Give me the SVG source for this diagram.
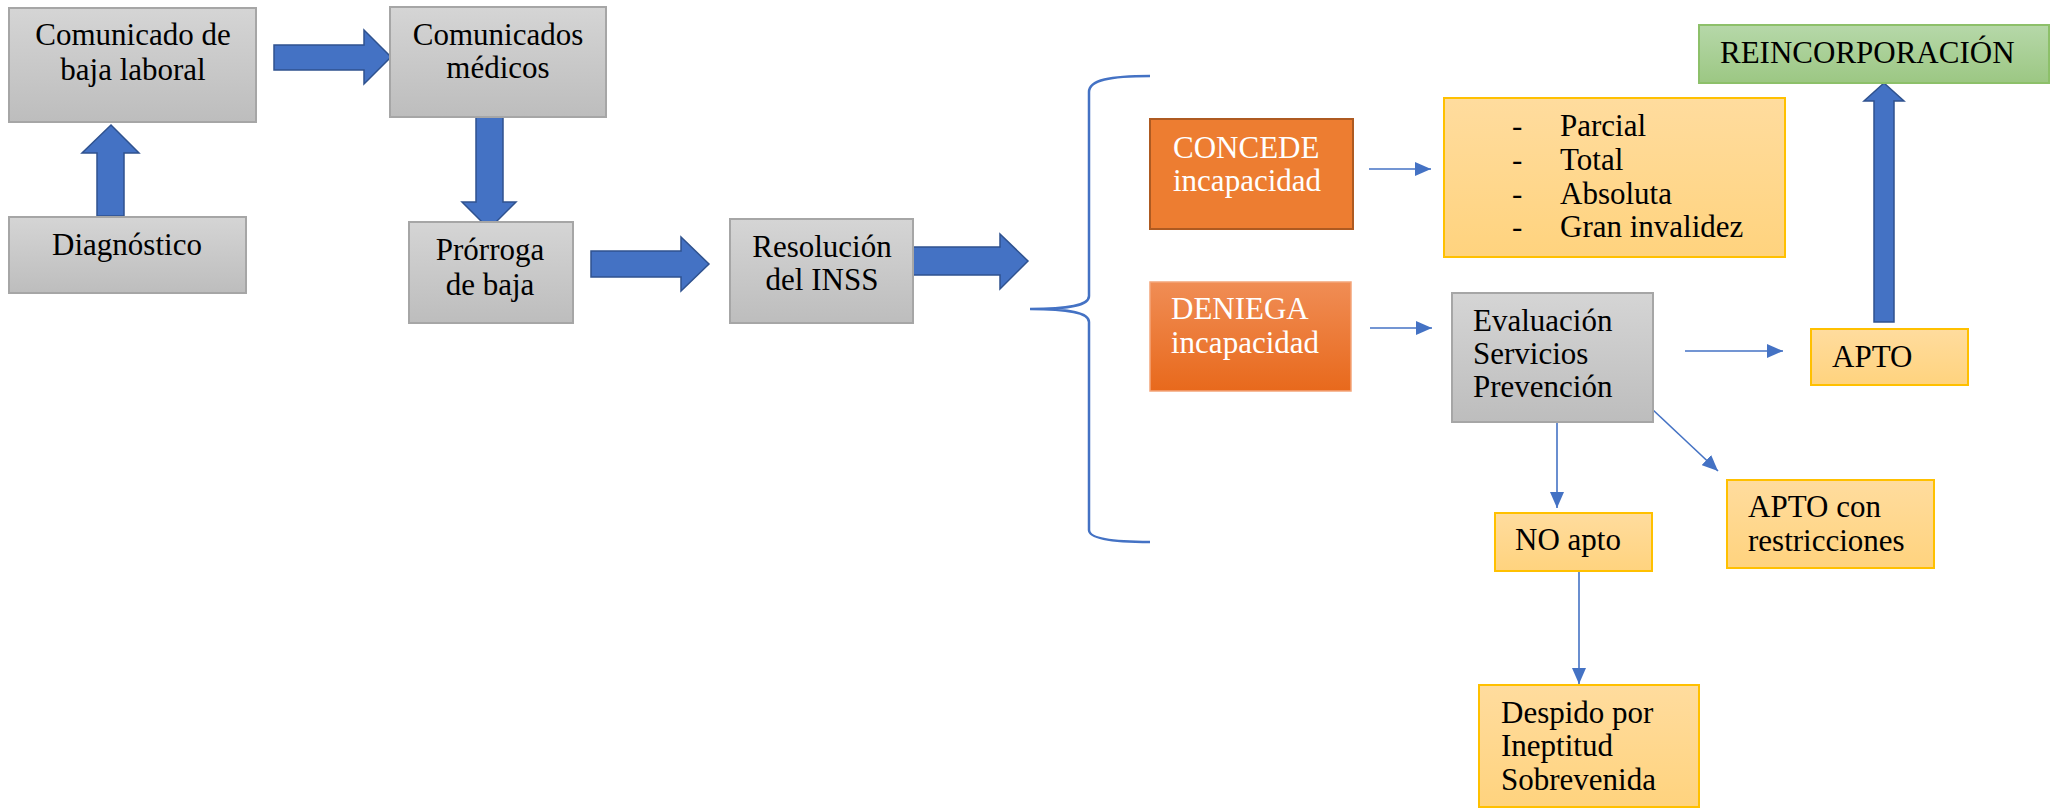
<svg xmlns="http://www.w3.org/2000/svg" width="2058" height="811" viewBox="0 0 2058 811">
<style>
text{font-family:'Liberation Serif',Tinos,'DejaVu Serif',serif;font-size:31px;fill:#000}
.w{fill:#fff}
.gray{fill:url(#gGray);stroke:#A6A6A6;stroke-width:2}
.yel{fill:url(#gYel);stroke:#FFC000;stroke-width:2}
.blk{fill:#4472C4;stroke:#2F528F;stroke-width:1.5;stroke-linejoin:miter}
.con{stroke:#4472C4;stroke-width:1.6;fill:none;marker-end:url(#ah)}
</style>
<defs>
<linearGradient id="gGray" x1="0" y1="0" x2="0" y2="1"><stop offset="0" stop-color="#D5D5D5"/><stop offset="1" stop-color="#BDBDBD"/></linearGradient>
<linearGradient id="gYel" x1="0" y1="0" x2="0" y2="1"><stop offset="0" stop-color="#FFDC9E"/><stop offset="1" stop-color="#FFD37E"/></linearGradient>
<linearGradient id="gDen" x1="0" y1="0" x2="0" y2="1"><stop offset="0" stop-color="#F08D55"/><stop offset="1" stop-color="#E8691C"/></linearGradient>
<linearGradient id="gGrn" x1="0" y1="0" x2="0" y2="1"><stop offset="0" stop-color="#B6D8A9"/><stop offset="1" stop-color="#9CC783"/></linearGradient>
<marker id="ah" markerUnits="userSpaceOnUse" markerWidth="18" markerHeight="14" refX="16" refY="7" orient="auto"><path d="M0,0 L16,7 L0,14 Z" fill="#4472C4"/></marker>
</defs>

<g id="connectors">
<polygon class="blk" points="274,45 364,45 364,30 391,57 364,84 364,70 274,70"/>
<polygon class="blk" points="97,216 97,153 82,153 111,125 139,153 124,153 124,216"/>
<polygon class="blk" points="476,111 503,111 503,202 516,202 489,229 462,202 476,202"/>
<polygon class="blk" points="591,251 681,251 681,237 709,264 681,291 681,277 591,277"/>
<polygon class="blk" points="913,247 1000,247 1000,234 1028,261 1000,289 1000,275 913,275"/>
<polygon class="blk" points="1874,322 1874,101 1864,101 1884,83 1904,101 1894,101 1894,322"/>
<path d="M1150,76 C1110,76 1089,80 1089,92 L1089,296 C1089,305 1072,309 1030,309 C1072,309 1089,313 1089,322 L1089,530 C1089,538 1110,542 1150,542" stroke="#4472C4" stroke-width="2.5" fill="none"/>
<line class="con" x1="1369" y1="169" x2="1431" y2="169"/>
<line class="con" x1="1370" y1="328" x2="1432" y2="328"/>
<line class="con" x1="1685" y1="351" x2="1783" y2="351"/>
<line class="con" x1="1557" y1="422" x2="1557" y2="508"/>
<line class="con" x1="1652" y1="409" x2="1718" y2="471"/>
<line class="con" x1="1579" y1="560" x2="1579" y2="684"/>
</g>

<g id="comunicado">
<rect class="gray" x="9" y="8" width="247" height="114"/>
<text x="133" y="45" text-anchor="middle">Comunicado de</text>
<text x="133" y="80" text-anchor="middle">baja laboral</text>
</g>
<g id="diagnostico">
<rect class="gray" x="9" y="217" width="237" height="76"/>
<text x="127" y="255" text-anchor="middle">Diagnóstico</text>
</g>
<g id="medicos">
<rect class="gray" x="390" y="7" width="216" height="110"/>
<text x="498" y="45" text-anchor="middle">Comunicados</text>
<text x="498" y="78" text-anchor="middle">médicos</text>
</g>
<g id="prorroga">
<rect class="gray" x="409" y="222" width="164" height="101"/>
<text x="490" y="260" text-anchor="middle">Prórroga</text>
<text x="490" y="295" text-anchor="middle">de baja</text>
</g>
<g id="resolucion">
<rect class="gray" x="730" y="219" width="183" height="104"/>
<text x="822" y="257" text-anchor="middle">Resolución</text>
<text x="822" y="290" text-anchor="middle">del INSS</text>
</g>
<g id="concede">
<rect x="1150" y="119" width="203" height="110" fill="#ED7D31" stroke="#AE5A21" stroke-width="2"/>
<text class="w" x="1173" y="158">CONCEDE</text>
<text class="w" x="1173" y="191">incapacidad</text>
</g>
<g id="deniega">
<rect x="1150" y="282" width="201" height="109" fill="url(#gDen)" stroke="#F4A57A" stroke-width="1.5"/>
<text class="w" x="1171" y="319">DENIEGA</text>
<text class="w" x="1171" y="353">incapacidad</text>
</g>
<g id="grados">
<rect class="yel" x="1444" y="98" width="341" height="159"/>
<text x="1512" y="136">-</text><text x="1560" y="136">Parcial</text>
<text x="1512" y="170">-</text><text x="1560" y="170">Total</text>
<text x="1512" y="204">-</text><text x="1560" y="204">Absoluta</text>
<text x="1512" y="237">-</text><text x="1560" y="237">Gran invalidez</text>
</g>
<g id="evaluacion">
<rect class="gray" x="1452" y="293" width="201" height="129"/>
<text x="1473" y="331">Evaluación</text>
<text x="1473" y="364">Servicios</text>
<text x="1473" y="397">Prevención</text>
</g>
<g id="reincorporacion">
<rect x="1699" y="25" width="350" height="58" fill="url(#gGrn)" stroke="#8DC06A" stroke-width="2"/>
<text x="1720" y="63">REINCORPORACIÓN</text>
</g>
<g id="apto">
<rect class="yel" x="1811" y="329" width="157" height="56"/>
<text x="1832" y="367">APTO</text>
</g>
<g id="noapto">
<rect class="yel" x="1495" y="513" width="157" height="58"/>
<text x="1515" y="550">NO apto</text>
</g>
<g id="aptorestr">
<rect class="yel" x="1727" y="480" width="207" height="88"/>
<text x="1748" y="517">APTO con</text>
<text x="1748" y="551">restricciones</text>
</g>
<g id="despido">
<rect class="yel" x="1479" y="685" width="220" height="122"/>
<text x="1501" y="723">Despido por</text>
<text x="1501" y="756">Ineptitud</text>
<text x="1501" y="790">Sobrevenida</text>
</g>
</svg>
